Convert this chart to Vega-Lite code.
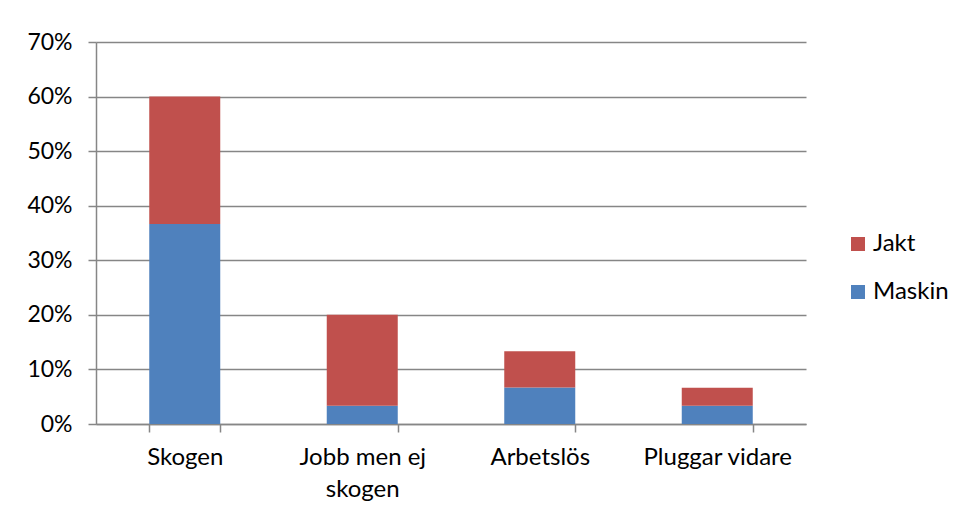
{
  "$schema": "https://vega.github.io/schema/vega-lite/v6.json",
  "width": 710,
  "height": 382,
  "autosize": {"type": "none"},
  "padding": {"left": 96, "top": 42, "right": 154, "bottom": 94},
  "background": "white",
  "data": {
    "values": [
      {"kategori": "Skogen", "serie": "Maskin", "andel": 0.3667},
      {"kategori": "Skogen", "serie": "Jakt", "andel": 0.2333},
      {"kategori": "Jobb men ej skogen", "serie": "Maskin", "andel": 0.0333},
      {"kategori": "Jobb men ej skogen", "serie": "Jakt", "andel": 0.1667},
      {"kategori": "Arbetslös", "serie": "Maskin", "andel": 0.0667},
      {"kategori": "Arbetslös", "serie": "Jakt", "andel": 0.0667},
      {"kategori": "Pluggar vidare", "serie": "Maskin", "andel": 0.0333},
      {"kategori": "Pluggar vidare", "serie": "Jakt", "andel": 0.0333}
    ]
  },
  "mark": {"type": "bar"},
  "encoding": {
    "x": {
      "field": "kategori",
      "type": "nominal",
      "sort": ["Skogen", "Jobb men ej skogen", "Arbetslös", "Pluggar vidare"],
      "scale": {"paddingInner": 0.6, "paddingOuter": 0.3},
      "axis": {
        "title": null,
        "labelAngle": 0,
        "labelFont": "Lato",
        "labelFontSize": 24,
        "labelColor": "#000000",
        "labelPadding": 13,
        "labelBaseline": "top",
        "labelLineHeight": 32,
        "labelExpr": "datum.label == 'Jobb men ej skogen' ? ['Jobb men ej', 'skogen'] : datum.label",
        "tickBand": "extent",
        "tickSize": 8,
        "tickColor": "#868686",
        "tickWidth": 1.5,
        "domainColor": "#868686",
        "domainWidth": 1.5,
        "grid": false
      }
    },
    "y": {
      "field": "andel",
      "type": "quantitative",
      "stack": "zero",
      "scale": {"domain": [0, 0.7], "nice": false},
      "axis": {
        "title": null,
        "values": [0, 0.1, 0.2, 0.3, 0.4, 0.5, 0.6, 0.7],
        "format": ".0%",
        "labelFont": "Lato",
        "labelFontSize": 23,
        "labelColor": "#000000",
        "labelPadding": 16,
        "tickSize": 8,
        "tickColor": "#868686",
        "tickWidth": 1.5,
        "domainColor": "#868686",
        "domainWidth": 1.5,
        "grid": true,
        "gridColor": "#868686",
        "gridWidth": 1.5
      }
    },
    "color": {
      "field": "serie",
      "type": "nominal",
      "scale": {"domain": ["Jakt", "Maskin"], "range": ["#C0504D", "#4F81BD"]},
      "legend": {
        "title": null,
        "orient": "none",
        "legendX": 750,
        "legendY": 190,
        "symbolType": "square",
        "symbolSize": 196,
        "symbolStrokeWidth": 0,
        "labelFont": "Lato",
        "labelFontSize": 24,
        "labelColor": "#000000",
        "labelOffset": 3,
        "rowPadding": 24
      }
    },
    "order": {"field": "serie", "sort": "descending"}
  },
  "config": {"view": {"stroke": null}}
}
